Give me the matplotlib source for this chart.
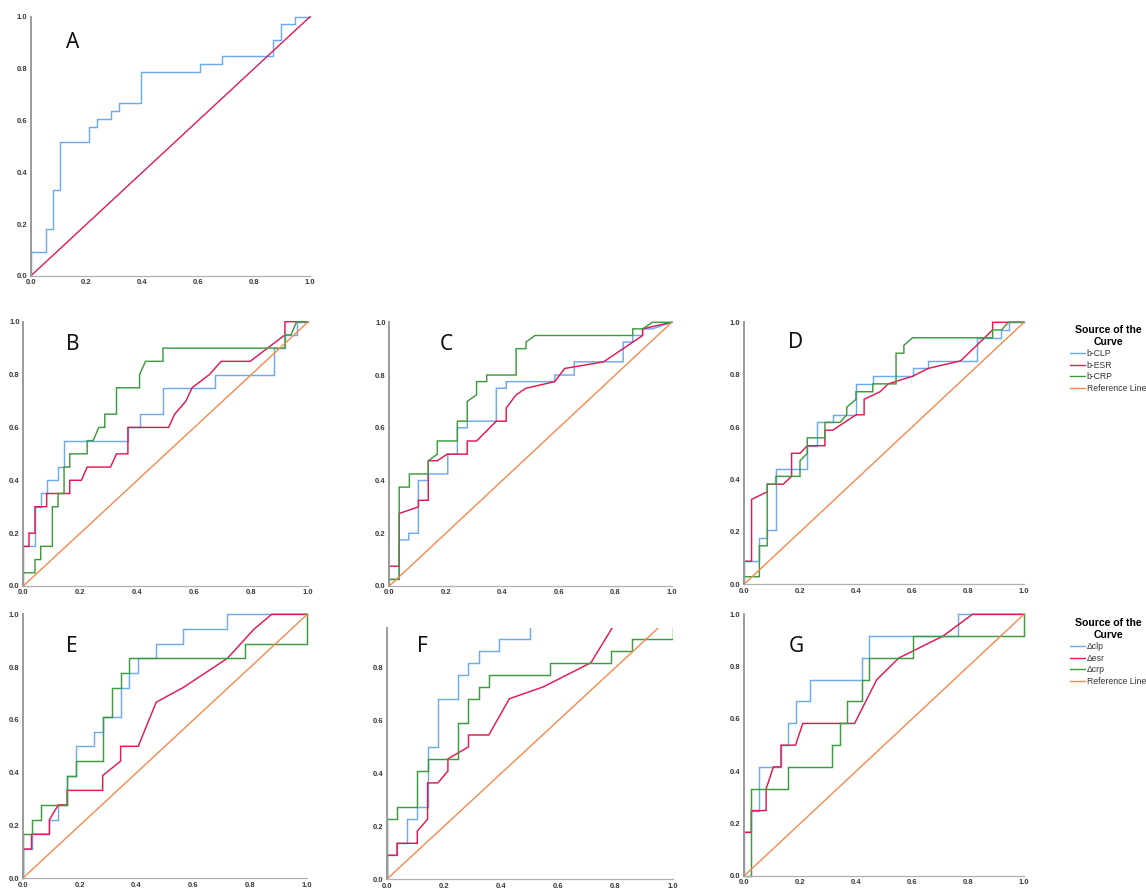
import matplotlib
matplotlib.use("Agg")
import matplotlib.pyplot as plt
from matplotlib.ticker import FormatStrFormatter
from matplotlib.lines import Line2D

plt.rcParams['font.family'] = ['Liberation Sans', 'DejaVu Sans']

BLUE = "#6eaaf0"
RED = "#e3194f"
GREEN = "#3f9b3f"
ORANGE = "#f58a4c"

# ---- panel A ----
a_clp_x = [0, 0, 0.053, 0.053, 0.079, 0.079, 0.105, 0.105, 0.21, 0.21, 0.237, 0.237, 0.289, 0.289,
           0.316, 0.316, 0.395, 0.395, 0.605, 0.605, 0.684, 0.684, 0.868, 0.868, 0.895, 0.895, 0.947, 0.947, 1]
a_clp_y = [0, 0.091, 0.091, 0.182, 0.182, 0.333, 0.333, 0.515, 0.515, 0.576, 0.576, 0.606, 0.606, 0.636,
           0.636, 0.667, 0.667, 0.788, 0.788, 0.818, 0.818, 0.848, 0.848, 0.909, 0.909, 0.970, 0.970, 1, 1]

# ---- panel B ----
b_clp_x = [0, 0, 0.041, 0.041, 0.061, 0.061, 0.082, 0.082, 0.122, 0.122, 0.143, 0.143, 0.367, 0.367,
           0.408, 0.408, 0.49, 0.49, 0.673, 0.673, 0.878, 0.878, 0.918, 0.918, 0.959, 0.959, 1]
b_clp_y = [0, 0.15, 0.15, 0.30, 0.30, 0.35, 0.35, 0.40, 0.40, 0.45, 0.45, 0.55, 0.55, 0.60,
           0.60, 0.65, 0.65, 0.75, 0.75, 0.80, 0.80, 0.90, 0.90, 0.95, 0.95, 1.0, 1.0]
b_esr_x = [0, 0, 0.02, 0.02, 0.041, 0.041, 0.082, 0.082, 0.163, 0.163, 0.204, 0.224, 0.306, 0.327,
           0.367, 0.367, 0.51, 0.531, 0.571, 0.592, 0.653, 0.694, 0.796, 0.857, 0.918, 0.918, 1]
b_esr_y = [0, 0.15, 0.15, 0.20, 0.20, 0.30, 0.30, 0.35, 0.35, 0.40, 0.40, 0.45, 0.45, 0.50,
           0.50, 0.60, 0.60, 0.65, 0.70, 0.75, 0.80, 0.85, 0.85, 0.90, 0.95, 1.0, 1.0]
b_crp_x = [0, 0, 0.041, 0.041, 0.061, 0.061, 0.102, 0.102, 0.122, 0.122, 0.143, 0.143, 0.163, 0.163,
           0.224, 0.224, 0.245, 0.265, 0.286, 0.286, 0.327, 0.327, 0.408, 0.408, 0.429, 0.49, 0.49,
           0.918, 0.918, 0.939, 0.959, 1]
b_crp_y = [0, 0.05, 0.05, 0.10, 0.10, 0.15, 0.15, 0.30, 0.30, 0.35, 0.35, 0.45, 0.45, 0.50,
           0.50, 0.55, 0.55, 0.60, 0.60, 0.65, 0.65, 0.75, 0.75, 0.80, 0.85, 0.85, 0.90,
           0.90, 0.95, 0.95, 1.0, 1.0]

# ---- panel C ----
c_clp_x = [0, 0, 0.035, 0.035, 0.069, 0.069, 0.103, 0.103, 0.138, 0.138, 0.207, 0.207, 0.241, 0.241,
           0.276, 0.276, 0.379, 0.379, 0.414, 0.414, 0.586, 0.586, 0.655, 0.655, 0.828, 0.828, 0.862,
           0.862, 0.897, 0.897, 0.931, 1]
c_clp_y = [0, 0.025, 0.025, 0.175, 0.175, 0.20, 0.20, 0.40, 0.40, 0.425, 0.425, 0.50, 0.50, 0.60,
           0.60, 0.625, 0.625, 0.75, 0.75, 0.775, 0.775, 0.80, 0.80, 0.85, 0.85, 0.925, 0.925,
           0.95, 0.95, 0.975, 0.975, 1]
c_esr_x = [0, 0, 0.035, 0.035, 0.103, 0.103, 0.138, 0.138, 0.17, 0.205, 0.276, 0.276, 0.309, 0.379,
           0.414, 0.414, 0.449, 0.484, 0.586, 0.621, 0.759, 0.828, 0.897, 0.897, 1]
c_esr_y = [0, 0.075, 0.075, 0.275, 0.30, 0.325, 0.325, 0.475, 0.475, 0.50, 0.50, 0.55, 0.55, 0.625,
           0.625, 0.675, 0.725, 0.75, 0.775, 0.825, 0.85, 0.90, 0.95, 0.975, 1.0]
c_crp_x = [0, 0, 0.035, 0.035, 0.071, 0.071, 0.138, 0.138, 0.17, 0.17, 0.241, 0.241, 0.276, 0.276,
           0.309, 0.309, 0.345, 0.345, 0.449, 0.449, 0.484, 0.484, 0.516, 0.862, 0.862, 0.897, 0.931, 1]
c_crp_y = [0, 0.025, 0.025, 0.375, 0.375, 0.425, 0.425, 0.475, 0.50, 0.55, 0.55, 0.625, 0.625, 0.70,
           0.725, 0.775, 0.775, 0.80, 0.80, 0.90, 0.90, 0.925, 0.95, 0.95, 0.975, 0.975, 1.0, 1.0]

# ---- panel D ----
d_clp_x = [0, 0, 0.055, 0.055, 0.083, 0.083, 0.114, 0.114, 0.226, 0.226, 0.26, 0.26, 0.317, 0.317,
           0.4, 0.4, 0.46, 0.46, 0.602, 0.602, 0.658, 0.658, 0.831, 0.831, 0.918, 0.918, 0.948, 0.948, 1]
d_clp_y = [0, 0.088, 0.088, 0.176, 0.176, 0.206, 0.206, 0.441, 0.441, 0.529, 0.529, 0.618, 0.618, 0.647,
           0.647, 0.765, 0.765, 0.794, 0.794, 0.824, 0.824, 0.853, 0.853, 0.941, 0.941, 0.971, 0.971, 1.0, 1.0]
d_esr_x = [0, 0, 0.027, 0.027, 0.083, 0.083, 0.14, 0.17, 0.17, 0.2, 0.226, 0.289, 0.289, 0.317,
           0.4, 0.429, 0.429, 0.486, 0.515, 0.602, 0.658, 0.774, 0.888, 0.888, 1]
d_esr_y = [0, 0.088, 0.088, 0.324, 0.353, 0.382, 0.382, 0.412, 0.50, 0.50, 0.529, 0.529, 0.588, 0.588,
           0.647, 0.647, 0.706, 0.735, 0.765, 0.794, 0.824, 0.853, 0.971, 1.0, 1.0]
d_crp_x = [0, 0, 0.055, 0.055, 0.083, 0.083, 0.114, 0.114, 0.2, 0.2, 0.226, 0.226, 0.289, 0.289,
           0.343, 0.367, 0.367, 0.4, 0.4, 0.46, 0.46, 0.543, 0.543, 0.571, 0.571, 0.602, 0.888, 0.888,
           0.92, 0.944, 1]
d_crp_y = [0, 0.029, 0.029, 0.147, 0.147, 0.382, 0.382, 0.412, 0.412, 0.471, 0.50, 0.559, 0.559, 0.618,
           0.618, 0.647, 0.676, 0.706, 0.735, 0.735, 0.765, 0.765, 0.882, 0.882, 0.912, 0.941, 0.941, 0.971,
           0.971, 1.0, 1.0]

# ---- panel E ----
e_clp_x = [0, 0, 0.031, 0.031, 0.094, 0.094, 0.125, 0.125, 0.156, 0.156, 0.188, 0.188, 0.25, 0.25,
           0.281, 0.281, 0.344, 0.344, 0.375, 0.375, 0.406, 0.406, 0.469, 0.469, 0.563, 0.563, 0.719, 0.719, 1]
e_clp_y = [0, 0.111, 0.111, 0.167, 0.167, 0.222, 0.222, 0.278, 0.278, 0.389, 0.389, 0.5, 0.5, 0.556,
           0.556, 0.611, 0.611, 0.722, 0.722, 0.778, 0.778, 0.833, 0.833, 0.889, 0.889, 0.944, 0.944, 1.0, 1.0]
e_esr_x = [0, 0, 0.031, 0.031, 0.094, 0.094, 0.125, 0.156, 0.156, 0.281, 0.281, 0.344, 0.344, 0.406,
           0.469, 0.563, 0.719, 0.813, 0.875, 1]
e_esr_y = [0, 0.111, 0.111, 0.167, 0.167, 0.222, 0.278, 0.278, 0.333, 0.333, 0.389, 0.444, 0.5, 0.5,
           0.667, 0.722, 0.833, 0.944, 1.0, 1.0]
e_crp_x = [0, 0, 0.031, 0.031, 0.063, 0.063, 0.156, 0.156, 0.188, 0.188, 0.281, 0.281, 0.313, 0.313,
           0.344, 0.344, 0.375, 0.375, 0.781, 0.781, 1.0, 1.0]
e_crp_y = [0, 0.167, 0.167, 0.222, 0.222, 0.278, 0.278, 0.389, 0.389, 0.444, 0.444, 0.611, 0.611, 0.722,
           0.722, 0.778, 0.778, 0.833, 0.833, 0.889, 0.889, 1.0]

# ---- panel F ----
f_clp_x = [0, 0, 0.036, 0.036, 0.071, 0.071, 0.107, 0.107, 0.143, 0.143, 0.179, 0.179, 0.25, 0.25,
           0.286, 0.286, 0.321, 0.321, 0.393, 0.393, 0.5, 0.5, 1]
f_clp_y = [0, 0.091, 0.091, 0.136, 0.136, 0.227, 0.227, 0.273, 0.273, 0.5, 0.5, 0.682, 0.682, 0.773,
           0.773, 0.818, 0.818, 0.864, 0.864, 0.909, 0.909, 1.0, 1.0]
f_esr_x = [0, 0, 0.036, 0.036, 0.107, 0.107, 0.143, 0.143, 0.179, 0.214, 0.214, 0.286, 0.286, 0.357,
           0.429, 0.548, 0.714, 0.8, 0.857, 1]
f_esr_y = [0, 0.091, 0.091, 0.136, 0.136, 0.182, 0.227, 0.364, 0.364, 0.409, 0.455, 0.5, 0.545, 0.545,
           0.682, 0.727, 0.818, 0.97, 1.0, 1.0]
f_crp_x = [0, 0, 0.036, 0.036, 0.107, 0.107, 0.143, 0.143, 0.25, 0.25, 0.286, 0.286, 0.321, 0.321,
           0.357, 0.357, 0.571, 0.571, 0.786, 0.786, 0.857, 0.857, 1.0, 1.0]
f_crp_y = [0, 0.227, 0.227, 0.273, 0.273, 0.409, 0.409, 0.455, 0.455, 0.591, 0.591, 0.682, 0.682, 0.727,
           0.727, 0.773, 0.773, 0.818, 0.818, 0.864, 0.864, 0.909, 0.909, 1.0]

# ---- panel G ----
g_clp_x = [0, 0, 0.026, 0.026, 0.053, 0.053, 0.132, 0.132, 0.158, 0.158, 0.184, 0.184, 0.237, 0.237,
           0.421, 0.421, 0.447, 0.447, 0.763, 0.763, 1]
g_clp_y = [0, 0.167, 0.167, 0.25, 0.25, 0.417, 0.417, 0.5, 0.5, 0.583, 0.583, 0.667, 0.667, 0.75,
           0.75, 0.833, 0.833, 0.917, 0.917, 1.0, 1.0]
g_esr_x = [0, 0, 0.026, 0.026, 0.079, 0.079, 0.105, 0.132, 0.132, 0.184, 0.21, 0.395, 0.474, 0.553,
           0.711, 0.816, 1]
g_esr_y = [0, 0.167, 0.167, 0.25, 0.25, 0.333, 0.417, 0.417, 0.5, 0.5, 0.583, 0.583, 0.75, 0.833,
           0.917, 1.0, 1.0]
g_crp_x = [0, 0.026, 0.026, 0.158, 0.158, 0.316, 0.316, 0.342, 0.342, 0.368, 0.368, 0.421, 0.421, 0.447,
           0.447, 0.605, 0.605, 1.0, 1.0]
g_crp_y = [0, 0, 0.333, 0.333, 0.417, 0.417, 0.5, 0.5, 0.583, 0.583, 0.667, 0.667, 0.75, 0.75,
           0.833, 0.833, 0.917, 0.917, 1.0]

ref_x = [0, 1]
ref_y = [0, 1]

row2_labels = ["b-CLP", "b-ESR", "b-CRP", "Reference Line"]
row3_labels = ["\u0394clp", "\u0394esr", "\u0394crp", "Reference Line"]

W, H = 1146, 889
fig = plt.figure(figsize=(W / 100, H / 100), dpi=100)


def make_axes(left, right, top, bottom):
    return fig.add_axes([left / W, 1 - bottom / H, (right - left) / W, (bottom - top) / H])


def style(ax, letter, lx, ly, ytop=1.0):
    ax.set_xlim(0, 1)
    ax.set_ylim(0, ytop)
    ax.set_xticks([0, 0.2, 0.4, 0.6, 0.8, 1.0])
    yt = [t for t in [0, 0.2, 0.4, 0.6, 0.8, 1.0] if t <= ytop + 1e-9]
    ax.set_yticks(yt)
    ax.xaxis.set_major_formatter(FormatStrFormatter('%.1f'))
    ax.yaxis.set_major_formatter(FormatStrFormatter('%.1f'))
    ax.tick_params(length=0, labelsize=5.5, pad=2.5, colors="#3a3a3a")
    for lab in ax.get_xticklabels() + ax.get_yticklabels():
        lab.set_fontweight("bold")
    for s in ["top", "right"]:
        ax.spines[s].set_visible(False)
    ax.spines["left"].set_color("#9a9a9a")
    ax.spines["left"].set_linewidth(1.4)
    ax.spines["bottom"].set_color("#b0b0b0")
    ax.spines["bottom"].set_linewidth(0.9)
    ax.patch.set_alpha(0)
    fig.text(lx / W, 1 - ly / H, letter, fontsize=15, ha="center", va="center",
             color="#111111", family=["Noto Sans", "DejaVu Sans"])


def draw(ax, curves, ref_color, clip=False):
    for (x, y), c in zip(curves, [BLUE, RED, GREEN]):
        ax.plot(x, y, color=c, lw=1.05, clip_on=clip, solid_joinstyle="miter")
    ax.plot(ref_x, ref_y, color=ref_color, lw=1.0, clip_on=clip)


def legend(ax, labels, x, y):
    handles = [Line2D([], [], color=c, lw=1.0) for c in [BLUE, RED, GREEN, ORANGE]]
    lg = ax.legend(handles, labels, title="Source of the\nCurve", loc="upper left",
                   bbox_to_anchor=(x / W, 1 - y / H), bbox_transform=fig.transFigure,
                   frameon=False, fontsize=6.2, handlelength=1.7, handletextpad=0.25,
                   labelspacing=0.3, borderpad=0, borderaxespad=0,
                   title_fontproperties={"weight": "bold", "size": 7.6})
    lg.get_title().set_multialignment("center")
    lg._legend_box.align = "center"
    for t in lg.get_texts():
        t.set_color("#333333")


# A
ax = make_axes(30.7, 310, 16.7, 276)
ax.plot(a_clp_x, a_clp_y, color=BLUE, lw=1.05, clip_on=False)
ax.plot(ref_x, ref_y, color=RED, lw=1.0, clip_on=False)
style(ax, "A", 72.7, 42)

# B
ax = make_axes(23.3, 308.3, 321.7, 586)
draw(ax, [(b_clp_x, b_clp_y), (b_esr_x, b_esr_y), (b_crp_x, b_crp_y)], ORANGE)
style(ax, "B", 72.7, 345)

# C
ax = make_axes(389.3, 671.7, 322.3, 586)
draw(ax, [(c_clp_x, c_clp_y), (c_esr_x, c_esr_y), (c_crp_x, c_crp_y)], ORANGE)
style(ax, "C", 446, 345)

# D
ax = make_axes(744, 1024, 322.3, 584.3)
draw(ax, [(d_clp_x, d_clp_y), (d_esr_x, d_esr_y), (d_crp_x, d_crp_y)], ORANGE)
style(ax, "D", 796, 342)
legend(ax, row2_labels, 1070, 325)

# E
ax = make_axes(22.7, 307.3, 614.3, 878.3)
draw(ax, [(e_clp_x, e_clp_y), (e_esr_x, e_esr_y), (e_crp_x, e_crp_y)], ORANGE)
style(ax, "E", 71.7, 647)

# F (cropped at the top in the original)
ax = make_axes(386.7, 672.7, 628.3, 879.3)
draw(ax, [(f_clp_x, f_clp_y), (f_esr_x, f_esr_y), (f_crp_x, f_crp_y)], ORANGE, clip=True)
style(ax, "F", 422.7, 647, ytop=0.948)

# G
ax = make_axes(744, 1024, 614.3, 876)
draw(ax, [(g_clp_x, g_clp_y), (g_esr_x, g_esr_y), (g_crp_x, g_crp_y)], ORANGE)
style(ax, "G", 796, 647)
legend(ax, row3_labels, 1070, 618)

fig.savefig("out.png", dpi=100)
